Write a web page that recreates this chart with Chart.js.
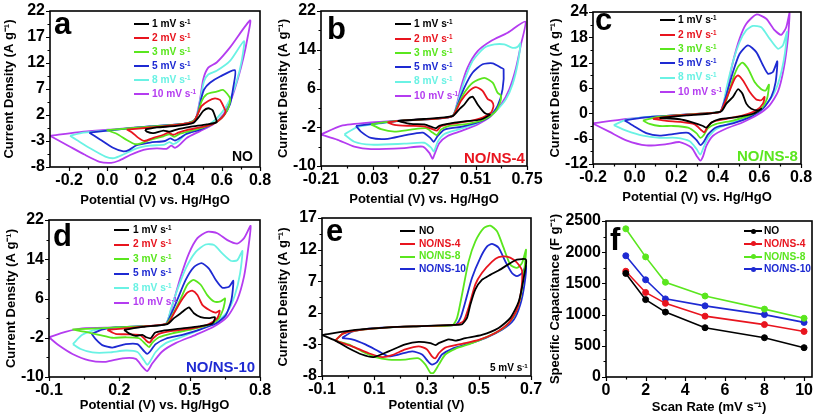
<!DOCTYPE html>
<html><head><meta charset="utf-8">
<script src="https://cdn.jsdelivr.net/npm/chart.js"></script>
<style>
html,body{margin:0;padding:0;background:#fff;}
body{width:817px;height:419px;position:relative;overflow:hidden;font-family:"Liberation Sans",Arial,Helvetica,sans-serif;}
canvas{position:absolute;}
.txt{position:absolute;font-weight:bold;line-height:1;white-space:nowrap;}
.sw{position:absolute;height:2px;}
.dot{position:absolute;width:5px;height:5px;border-radius:50%;}
sup{font-size:0.62em;vertical-align:0.55em;line-height:0;}
</style></head><body>
<script>
// ---------- labels / colours ----------
const rateLabels = ['1','2','3','5','8','10'];
const rateColors = ['#000000','#e8141e','#5ae61e','#1e2ad2','#6af2e4','#b43cf0'];
const sampleLabels = ['NO','NO/NS-4','NO/NS-8','NO/NS-10'];
const sampleColors = ['#000000','#e8141e','#5ae61e','#1e2ad2'];

// ---------- tick labels ----------
const xTicksA=[-0.2,0,0.2,0.4,0.6,0.8], yTicksA=[-8,-3,2,7,12,17,22];
const xTicksB=[-0.21,0.03,0.27,0.51,0.75], yTicksB=[-10,-2,6,14,22];
const xTicksC=[-0.2,0,0.2,0.4,0.6,0.8], yTicksC=[-12,-6,0,6,12,18,24];
const xTicksD=[-0.1,0.2,0.5,0.8], yTicksD=[-10,-2,6,14,22];
const xTicksE=[-0.1,0.1,0.3,0.5,0.7], yTicksE=[-8,-3,2,7,12,17];
const xTicksF=[0,2,4,6,8,10], yTicksF=[0,500,1000,1500,2000,2500];

// ---------- (a) NO : [potential V, current A/g] loops ----------
const cvA1=[[0.198,-0.8],[0.259,-0.4],[0.363,-0.1],[0.451,0.5],[0.477,1.5],[0.503,2.8],[0.529,3.3],[0.552,2.9],[0.566,1.6],[0.573,0.6],[0.521,0.2],[0.433,-0.3],[0.363,-0.8],[0.329,-1.2],[0.294,-1.0],[0.241,-1.5],[0.207,-1.2],[0.198,-0.8]];
const cvA2=[[0.102,-0.8],[0.224,-0.4],[0.363,0.1],[0.451,0.7],[0.473,2.1],[0.494,3.7],[0.529,4.7],[0.564,5.2],[0.59,4.9],[0.608,3.7],[0.62,2.6],[0.599,1.4],[0.555,0.3],[0.486,-0.4],[0.416,-0.9],[0.372,-1.4],[0.346,-1.8],[0.32,-1.4],[0.294,-1.8],[0.241,-2.4],[0.195,-3.0],[0.163,-2.4],[0.128,-1.3],[0.102,-0.8]];
const cvA3=[[-0.003,-0.9],[0.137,-0.5],[0.276,-0.1],[0.398,0.3],[0.451,0.85],[0.473,2.1],[0.494,4.6],[0.521,6.0],[0.573,6.5],[0.608,6.8],[0.643,5.2],[0.634,3.4],[0.608,1.8],[0.564,0.5],[0.503,-0.4],[0.433,-1.1],[0.381,-1.6],[0.35,-2.2],[0.325,-1.7],[0.294,-2.1],[0.224,-2.8],[0.172,-3.5],[0.145,-3.6],[0.102,-2.8],[0.049,-1.6],[-0.003,-0.9]];
const cvA5=[[-0.094,-1.4],[0.049,-0.8],[0.224,-0.2],[0.398,0.3],[0.451,0.85],[0.473,2.1],[0.491,5.0],[0.507,6.9],[0.538,8.2],[0.591,9.4],[0.669,10.6],[0.66,7.3],[0.643,4.1],[0.608,1.8],[0.555,0.3],[0.486,-0.8],[0.416,-1.6],[0.381,-2.4],[0.355,-2.9],[0.33,-2.5],[0.302,-3.0],[0.224,-3.3],[0.154,-3.8],[0.115,-4.7],[0.085,-5.0],[0.03,-4.3],[-0.038,-2.7],[-0.094,-1.4]];
const cvA8=[[-0.195,-2.0],[-0.125,-1.4],[0.049,-0.8],[0.224,-0.2],[0.398,0.3],[0.451,0.85],[0.472,2.1],[0.489,5.3],[0.507,8.5],[0.529,9.8],[0.573,10.5],[0.643,12.4],[0.716,16.2],[0.704,12.4],[0.678,8.5],[0.643,5.0],[0.599,2.4],[0.547,0.5],[0.477,-0.8],[0.407,-1.8],[0.372,-3.1],[0.346,-3.6],[0.325,-3.2],[0.3,-3.7],[0.224,-3.9],[0.154,-4.4],[0.084,-5.6],[0.035,-6.3],[-0.01,-6.0],[-0.09,-4.4],[-0.16,-2.8],[-0.195,-2.0]];
const cvA10=[[-0.3,-2.0],[-0.125,-1.2],[0.049,-0.7],[0.224,-0.2],[0.398,0.3],[0.451,0.85],[0.468,1.8],[0.486,5.0],[0.503,8.9],[0.529,11.1],[0.573,12.1],[0.643,15.0],[0.748,20.2],[0.735,16.9],[0.713,13.0],[0.686,9.2],[0.652,5.3],[0.608,2.1],[0.555,0.2],[0.486,-1.1],[0.416,-2.4],[0.38,-3.7],[0.355,-4.3],[0.335,-3.9],[0.31,-4.5],[0.26,-4.4],[0.19,-4.7],[0.12,-5.7],[0.06,-6.8],[0.02,-7.2],[-0.04,-7.0],[-0.12,-5.6],[-0.2,-4.0],[-0.3,-2.0]];

// ---------- (b) NO/NS-4 ----------
const cvB1=[[0.147,-0.7],[0.27,-0.3],[0.403,0.3],[0.434,1.7],[0.458,2.7],[0.481,4.0],[0.497,4.3],[0.52,2.7],[0.543,1.4],[0.559,0.8],[0.577,0.6],[0.535,-0.4],[0.458,-0.8],[0.38,-1.3],[0.341,-1.7],[0.326,-2.2],[0.31,-2.0],[0.271,-1.4],[0.209,-1.3],[0.147,-0.7]];
const cvB2=[[0.1,-1.0],[0.178,-0.6],[0.334,-0.2],[0.403,0.3],[0.442,3.4],[0.481,5.5],[0.512,6.3],[0.543,5.5],[0.567,3.8],[0.585,3.4],[0.594,2.4],[0.582,1.0],[0.543,0.0],[0.473,-0.8],[0.38,-1.4],[0.349,-1.8],[0.33,-2.7],[0.31,-2.4],[0.271,-1.8],[0.194,-1.7],[0.132,-1.5],[0.1,-1.0]];
const cvB3=[[0.023,-1.4],[0.1,-0.9],[0.178,-0.6],[0.334,-0.2],[0.403,0.3],[0.427,2.4],[0.458,5.1],[0.497,7.2],[0.551,8.2],[0.59,7.2],[0.613,5.1],[0.629,4.5],[0.621,2.7],[0.598,1.0],[0.551,-0.4],[0.473,-1.3],[0.38,-1.8],[0.349,-2.5],[0.33,-3.6],[0.31,-3.1],[0.279,-2.2],[0.209,-2.5],[0.132,-2.9],[0.07,-2.4],[0.023,-1.4]];
const cvB5=[[-0.047,-1.7],[0.07,-1.1],[0.178,-0.6],[0.334,-0.2],[0.403,0.3],[0.427,2.7],[0.458,6.2],[0.497,9.3],[0.543,11.0],[0.59,11.2],[0.629,10.3],[0.641,10.0],[0.636,5.8],[0.613,2.4],[0.574,0.1],[0.52,-1.0],[0.442,-1.9],[0.365,-2.5],[0.334,-3.8],[0.315,-5.0],[0.299,-4.2],[0.264,-3.1],[0.178,-3.7],[0.1,-4.4],[0.023,-4.2],[-0.024,-2.9],[-0.047,-1.7]];
const cvB8=[[-0.101,-3.5],[-0.039,-1.9],[0.07,-1.2],[0.178,-0.6],[0.334,-0.2],[0.403,0.3],[0.427,3.1],[0.458,7.6],[0.497,11.7],[0.551,14.4],[0.598,15.1],[0.644,15.1],[0.683,14.4],[0.706,14.6],[0.719,15.3],[0.706,11.0],[0.683,6.9],[0.652,3.8],[0.613,1.7],[0.567,0.0],[0.504,-1.4],[0.427,-2.5],[0.365,-3.4],[0.334,-5.0],[0.316,-7.0],[0.303,-6.2],[0.271,-5.2],[0.178,-5.4],[0.023,-5.6],[-0.055,-5.0],[-0.101,-3.5]];
const cvB10=[[-0.21,-3.5],[-0.117,-1.7],[0.023,-1.0],[0.178,-0.6],[0.334,-0.2],[0.403,0.3],[0.419,2.0],[0.442,6.2],[0.473,10.3],[0.52,13.7],[0.582,15.8],[0.66,17.5],[0.742,19.8],[0.722,15.1],[0.699,10.3],[0.667,5.8],[0.629,2.7],[0.582,0.3],[0.52,-1.4],[0.442,-2.8],[0.38,-3.8],[0.341,-5.3],[0.318,-7.7],[0.31,-8.5],[0.295,-7.3],[0.264,-6.0],[0.178,-6.3],[0.023,-6.5],[-0.055,-6.0],[-0.132,-4.6],[-0.21,-3.5]];

// ---------- (c) NO/NS-8 ----------
const cvC1=[[0.12,-1.1],[0.25,-0.5],[0.35,-0.1],[0.417,0.5],[0.441,2.3],[0.473,3.9],[0.497,5.7],[0.518,4.7],[0.537,2.3],[0.561,1.1],[0.593,0.7],[0.609,1.1],[0.569,-0.1],[0.489,-0.9],[0.409,-1.4],[0.369,-2.2],[0.345,-3.4],[0.329,-3.0],[0.281,-2.2],[0.217,-1.4],[0.12,-1.1]];
const cvC2=[[0.088,-1.3],[0.2,-0.5],[0.32,-0.1],[0.409,0.3],[0.425,1.5],[0.457,5.4],[0.481,8.2],[0.497,9.0],[0.521,7.8],[0.553,5.1],[0.585,3.3],[0.609,3.1],[0.625,3.9],[0.617,2.3],[0.585,0.7],[0.521,-0.5],[0.441,-1.3],[0.377,-2.0],[0.353,-3.0],[0.335,-4.5],[0.321,-4.0],[0.289,-2.6],[0.217,-2.0],[0.153,-1.8],[0.088,-1.3]];
const cvC3=[[0.04,-1.7],[0.12,-0.8],[0.281,-0.2],[0.409,0.3],[0.417,0.7],[0.441,3.1],[0.473,8.2],[0.497,11.0],[0.518,12.0],[0.545,10.6],[0.577,7.4],[0.609,5.7],[0.63,5.4],[0.646,6.8],[0.637,3.5],[0.609,1.1],[0.553,-0.5],[0.473,-1.7],[0.393,-2.5],[0.353,-3.5],[0.332,-5.2],[0.316,-5.8],[0.297,-4.7],[0.257,-3.4],[0.185,-3.0],[0.12,-3.0],[0.072,-2.5],[0.04,-1.7]];
const cvC5=[[-0.048,-1.7],[0.04,-1.0],[0.12,-0.7],[0.281,-0.2],[0.409,0.3],[0.417,0.7],[0.441,4.3],[0.473,9.8],[0.505,14.1],[0.545,16.1],[0.585,14.5],[0.617,11.4],[0.641,9.4],[0.665,9.8],[0.686,12.3],[0.678,7.4],[0.657,3.9],[0.617,1.1],[0.553,-0.9],[0.473,-2.4],[0.393,-3.3],[0.353,-5.0],[0.332,-6.8],[0.316,-7.5],[0.297,-6.3],[0.257,-4.6],[0.185,-4.9],[0.12,-5.3],[0.056,-4.7],[-0.008,-2.9],[-0.048,-1.7]];
const cvC8=[[-0.1,-2.8],[-0.04,-1.5],[0.05,-0.9],[0.12,-0.7],[0.281,-0.2],[0.409,0.3],[0.425,1.9],[0.441,5.8],[0.473,12.2],[0.505,16.9],[0.537,19.7],[0.569,20.7],[0.609,20.4],[0.649,17.7],[0.689,15.3],[0.713,16.1],[0.733,19.3],[0.721,13.7],[0.697,8.2],[0.665,4.3],[0.617,1.5],[0.553,-0.5],[0.473,-2.1],[0.393,-3.7],[0.353,-5.8],[0.329,-8.4],[0.316,-9.8],[0.297,-8.4],[0.265,-6.6],[0.2,-5.8],[0.12,-5.8],[0.04,-5.3],[-0.04,-4.1],[-0.1,-2.8]];
const cvC10=[[-0.2,-2.4],[-0.04,-1.3],[0.12,-0.7],[0.281,-0.2],[0.409,0.3],[0.425,1.9],[0.449,6.6],[0.473,12.2],[0.505,17.7],[0.537,21.2],[0.585,23.4],[0.633,22.4],[0.673,19.7],[0.705,18.6],[0.729,20.4],[0.745,23.8],[0.737,17.7],[0.717,10.6],[0.689,5.1],[0.649,1.9],[0.593,-0.3],[0.521,-2.1],[0.441,-3.6],[0.377,-5.3],[0.345,-7.7],[0.329,-10.2],[0.316,-11.2],[0.3,-10.2],[0.273,-8.1],[0.217,-6.8],[0.153,-7.3],[0.056,-7.6],[-0.04,-6.4],[-0.12,-4.4],[-0.2,-2.4]];

// ---------- (d) NO/NS-10 ----------
const cvD1=[[0.22,-0.4],[0.3,0.2],[0.405,0.8],[0.433,2.0],[0.462,3.0],[0.483,3.8],[0.497,4.2],[0.518,3.0],[0.547,2.2],[0.582,2.0],[0.608,2.2],[0.597,0.9],[0.54,0.3],[0.469,-0.1],[0.383,-0.6],[0.352,-1.0],[0.334,-2.1],[0.315,-1.9],[0.298,-1.4],[0.27,-1.6],[0.241,-1.1],[0.22,-0.4]];
const cvD2=[[0.149,-0.4],[0.25,0.0],[0.326,0.4],[0.405,0.9],[0.433,3.0],[0.462,5.4],[0.49,7.2],[0.511,7.6],[0.533,6.7],[0.554,4.7],[0.582,3.7],[0.611,3.1],[0.628,3.5],[0.618,2.0],[0.582,0.8],[0.511,-0.1],[0.426,-0.6],[0.369,-1.2],[0.344,-2.1],[0.329,-3.0],[0.315,-2.6],[0.291,-1.5],[0.241,-1.3],[0.184,-1.2],[0.149,-0.4]];
const cvD3=[[0.0,-0.3],[0.113,-0.1],[0.184,0.1],[0.326,0.4],[0.398,0.8],[0.426,2.6],[0.462,6.0],[0.49,8.8],[0.516,9.8],[0.547,8.8],[0.575,6.7],[0.604,5.4],[0.632,5.4],[0.651,6.0],[0.642,3.7],[0.618,1.6],[0.568,0.4],[0.497,-0.4],[0.426,-1.1],[0.369,-1.9],[0.341,-3.0],[0.327,-3.9],[0.312,-3.3],[0.284,-2.1],[0.227,-1.9],[0.17,-2.0],[0.113,-1.4],[0.056,-0.8],[0.0,-0.3]];
const cvD5=[[0.082,-1.2],[0.13,-0.3],[0.184,0.1],[0.326,0.4],[0.398,0.8],[0.419,2.6],[0.447,5.7],[0.483,9.8],[0.518,12.4],[0.551,13.2],[0.582,12.1],[0.611,9.8],[0.639,8.2],[0.668,8.4],[0.686,9.6],[0.678,5.7],[0.654,2.6],[0.611,0.9],[0.54,-0.4],[0.469,-1.4],[0.398,-2.2],[0.355,-3.3],[0.331,-4.8],[0.319,-5.3],[0.305,-4.7],[0.277,-3.3],[0.227,-3.3],[0.17,-4.0],[0.127,-3.5],[0.099,-2.3],[0.082,-1.2]];
const cvD8=[[0.002,-3.3],[0.042,-1.4],[0.099,-0.4],[0.184,0.1],[0.326,0.4],[0.398,0.8],[0.419,3.7],[0.447,7.7],[0.483,12.1],[0.526,15.5],[0.568,17.0],[0.604,16.9],[0.639,15.2],[0.675,13.7],[0.703,13.8],[0.725,15.7],[0.715,11.1],[0.693,6.7],[0.661,3.3],[0.611,1.3],[0.54,-0.4],[0.469,-1.8],[0.398,-3.1],[0.355,-4.9],[0.329,-7.0],[0.319,-7.5],[0.305,-6.6],[0.277,-4.9],[0.227,-4.6],[0.156,-5.0],[0.085,-5.0],[0.035,-4.3],[0.002,-3.3]];
const cvD10=[[-0.1,-1.9],[-0.03,-0.8],[0.042,-0.1],[0.184,0.1],[0.326,0.4],[0.398,0.8],[0.412,2.3],[0.433,5.7],[0.462,10.5],[0.497,15.2],[0.533,18.3],[0.575,19.6],[0.618,19.3],[0.661,17.9],[0.703,17.2],[0.732,18.3],[0.76,20.8],[0.749,15.9],[0.732,10.5],[0.703,5.7],[0.661,2.3],[0.604,0.3],[0.526,-1.4],[0.44,-3.1],[0.383,-4.8],[0.341,-7.2],[0.319,-8.8],[0.298,-7.9],[0.27,-6.3],[0.213,-6.2],[0.142,-6.9],[0.071,-6.6],[0.0,-5.3],[-0.057,-3.6],[-0.1,-1.9]];

// ---------- (e) 5 mV/s comparison ----------
const cvE_NO=[[-0.1,-1.5],[0.028,-0.7],[0.155,-0.3],[0.283,-0.1],[0.41,0.1],[0.436,0.2],[0.455,1.2],[0.468,3.3],[0.487,5.7],[0.512,7.2],[0.544,8.0],[0.576,8.7],[0.615,9.7],[0.646,10.4],[0.681,10.4],[0.672,7.5],[0.653,3.8],[0.621,1.2],[0.576,-0.4],[0.512,-1.5],[0.449,-2.0],[0.41,-2.4],[0.385,-2.2],[0.347,-2.8],[0.334,-3.1],[0.315,-2.8],[0.27,-2.6],[0.219,-3.0],[0.155,-4.1],[0.098,-5.0],[0.053,-4.6],[0.002,-3.6],[-0.049,-2.4],[-0.1,-1.5]];
const cvE_NS4=[[-0.049,-2.4],[-0.02,-1.3],[0.028,-0.8],[0.155,-0.3],[0.283,-0.1],[0.41,0.1],[0.442,0.7],[0.461,2.8],[0.487,6.5],[0.512,8.3],[0.551,10.1],[0.576,10.8],[0.608,10.9],[0.634,10.4],[0.653,9.6],[0.666,8.6],[0.662,5.4],[0.646,2.5],[0.615,0.4],[0.563,-1.2],[0.5,-2.3],[0.436,-2.9],[0.372,-3.5],[0.347,-4.4],[0.334,-5.2],[0.321,-4.9],[0.302,-3.8],[0.27,-3.3],[0.219,-3.8],[0.168,-4.7],[0.13,-5.0],[0.079,-4.4],[0.015,-3.3],[-0.049,-2.4]];
const cvE_NS8=[[-0.049,-2.4],[-0.02,-1.3],[0.028,-0.8],[0.155,-0.3],[0.283,-0.1],[0.398,0.0],[0.417,1.2],[0.436,4.9],[0.461,10.1],[0.487,13.3],[0.519,15.4],[0.544,15.8],[0.57,14.9],[0.595,12.3],[0.621,9.6],[0.646,9.1],[0.666,9.9],[0.681,12.0],[0.672,8.0],[0.659,4.3],[0.634,1.4],[0.595,-0.4],[0.538,-1.7],[0.474,-2.8],[0.41,-3.7],[0.372,-4.6],[0.347,-6.2],[0.327,-7.5],[0.315,-7.5],[0.296,-6.2],[0.27,-5.2],[0.219,-5.4],[0.155,-5.4],[0.104,-5.0],[0.053,-4.1],[0.002,-3.0],[-0.049,-2.4]];
const cvE_NS10=[[-0.023,-2.0],[0.015,-1.0],[0.08,-0.5],[0.155,-0.3],[0.283,-0.1],[0.41,0.1],[0.43,1.2],[0.449,3.8],[0.474,7.5],[0.506,10.7],[0.532,12.5],[0.551,12.9],[0.576,12.3],[0.602,10.1],[0.627,8.3],[0.646,7.8],[0.666,8.3],[0.681,9.4],[0.675,6.5],[0.659,3.3],[0.634,0.9],[0.589,-0.7],[0.525,-2.0],[0.461,-2.9],[0.398,-3.7],[0.359,-4.6],[0.34,-5.8],[0.321,-6.2],[0.306,-5.7],[0.283,-4.6],[0.245,-4.1],[0.193,-4.6],[0.155,-4.9],[0.117,-4.1],[0.066,-3.0],[0.015,-2.2],[-0.023,-2.0]];

// ---------- (f) specific capacitance vs scan rate ----------
const scanRates=[1,2,3,5,8,10];
const capNO=[1660,1240,1040,790,630,470];
const capNS4=[1695,1355,1180,975,840,730];
const capNS8=[2375,1925,1518,1298,1088,942];
const capNS10=[1943,1558,1252,1140,1000,875];

// ================= drawing =================
Chart.defaults.font.family='"Liberation Sans", Arial, Helvetica, sans-serif';
Chart.defaults.color='#000';

const framePlugin={id:'frame',afterDraw(chart){
  const {ctx,chartArea:{left,top,right,bottom}}=chart;
  const xs=chart.scales.x, ys=chart.scales.y;
  ctx.save();
  ctx.strokeStyle='#000';ctx.lineWidth=1.2;
  ctx.beginPath();
  const xv=xs.ticks.map(t=>t.value), yv=ys.ticks.map(t=>t.value);
  xv.forEach((v,i)=>{const p=Math.round(xs.getPixelForValue(v))+0.5;ctx.moveTo(p,bottom);ctx.lineTo(p,bottom+4);
    if(i<xv.length-1){const m=Math.round(xs.getPixelForValue((v+xv[i+1])/2))+0.5;ctx.moveTo(m,bottom);ctx.lineTo(m,bottom+2.5);}});
  yv.forEach((v,i)=>{const p=Math.round(ys.getPixelForValue(v))+0.5;ctx.moveTo(left,p);ctx.lineTo(left-4,p);
    if(i<yv.length-1){const m=Math.round(ys.getPixelForValue((v+yv[i+1])/2))+0.5;ctx.moveTo(left,m);ctx.lineTo(left-2.5,m);}});
  ctx.stroke();
  ctx.lineWidth=1.6;
  ctx.strokeRect(left,top,right-left,bottom-top);
  ctx.restore();
}};

function mkCanvas(l,t,w,h){
  const c=document.createElement('canvas');
  c.width=w;c.height=h;c.style.left=l+'px';c.style.top=t+'px';c.style.width=w+'px';c.style.height=h+'px';
  document.body.appendChild(c);return c;
}

function panel(cfg){
  const c=mkCanvas(cfg.l,cfg.t,cfg.w,cfg.h);
  return new Chart(c.getContext('2d'),{
    type:'scatter',
    data:{datasets:cfg.datasets},
    options:{
      responsive:false,animation:false,devicePixelRatio:1,
      layout:{padding:{top:cfg.padTop,right:cfg.padRight,left:0,bottom:0}},
      plugins:{legend:{display:false},tooltip:{enabled:false}},
      scales:{
        x:{type:'linear',min:cfg.xr[0],max:cfg.xr[1],
          afterBuildTicks:s=>{s.ticks=cfg.xt.map(v=>({value:v}));},
          afterFit:s=>{s.height=cfg.xH;s.paddingLeft=0;s.paddingRight=0;},
          grid:{display:false,drawTicks:false},border:{display:false},
          ticks:{color:'#000',font:{size:16,weight:'bold'},padding:4,maxRotation:0,autoSkip:false,callback:v=>cfg.xfmt(v)},
          title:{display:true,text:cfg.xTitle,color:'#000',font:{size:13,weight:'bold'},padding:{top:0,bottom:cfg.xtPad}}},
        y:{type:'linear',min:cfg.yr[0],max:cfg.yr[1],
          afterBuildTicks:s=>{s.ticks=cfg.yt.map(v=>({value:v}));},
          afterFit:s=>{s.width=cfg.yW;s.paddingTop=0;s.paddingBottom=0;},
          grid:{display:false,drawTicks:false},border:{display:false},
          ticks:{color:'#000',font:{size:16,weight:'bold'},padding:5,autoSkip:false,callback:v=>String(v)},
          title:{display:true,text:cfg.yTitle,color:'#000',font:{size:13,weight:'bold'},padding:{top:cfg.ytPad,bottom:0}}}
      }
    },
    plugins:[framePlugin]
  });
}

function cvSets(curves,colors){
  return curves.map((pts,i)=>({data:pts.map(p=>({x:p[0],y:p[1]})),showLine:true,borderColor:colors[i],
    backgroundColor:colors[i],borderWidth:1.8,pointRadius:0,tension:0.22,fill:false}));
}
const f1=v=>Number(v).toFixed(1), f2=v=>Number(v).toFixed(2);
const CD='Current Density (A g\u207B\u00B9)', PH='Potential (V) vs. Hg/HgO';

panel({l:0,t:0,w:272,h:210,padTop:11,padRight:12,yW:50,xH:43,xtPad:2,ytPad:2,
  xr:[-0.3,0.8],yr:[-8,22],xt:xTicksA,yt:yTicksA,xfmt:f1,xTitle:PH,yTitle:CD,
  datasets:cvSets([cvA1,cvA2,cvA3,cvA5,cvA8,cvA10],rateColors)});
panel({l:272,t:0,w:272,h:210,padTop:11,padRight:17,yW:49,xH:44,xtPad:3,ytPad:4,
  xr:[-0.21,0.75],yr:[-10,22],xt:xTicksB,yt:yTicksB,xfmt:f2,xTitle:PH,yTitle:CD,
  datasets:cvSets([cvB1,cvB2,cvB3,cvB5,cvB8,cvB10],rateColors)});
panel({l:544,t:0,w:273,h:210,padTop:12,padRight:16,yW:49,xH:46,xtPad:5,ytPad:4,
  xr:[-0.2,0.8],yr:[-12,24],xt:xTicksC,yt:yTicksC,xfmt:f1,xTitle:PH,yTitle:CD,
  datasets:cvSets([cvC1,cvC2,cvC3,cvC5,cvC8,cvC10],rateColors)});
panel({l:0,t:205,w:272,h:214,padTop:15,padRight:12,yW:49,xH:42,xtPad:6,ytPad:4,
  xr:[-0.1,0.8],yr:[-10,22],xt:xTicksD,yt:yTicksD,xfmt:f1,xTitle:PH,yTitle:CD,
  datasets:cvSets([cvD1,cvD2,cvD3,cvD5,cvD8,cvD10],rateColors)});
panel({l:272,t:205,w:272,h:214,padTop:13,padRight:13,yW:50,xH:43,xtPad:6,ytPad:4,
  xr:[-0.1,0.7],yr:[-8,17],xt:xTicksE,yt:yTicksE,xfmt:f1,xTitle:'Potential (V)',yTitle:CD,
  datasets:cvSets([cvE_NO,cvE_NS4,cvE_NS8,cvE_NS10],sampleColors)});
panel({l:544,t:205,w:273,h:214,padTop:16,padRight:4,yW:62,xH:42,xtPad:4,ytPad:4,
  xr:[0,10.4],yr:[0,2500],xt:xTicksF,yt:yTicksF,xfmt:v=>String(v),
  xTitle:'Scan Rate (mV s\u207B\u00B9)',yTitle:'Specific Capacitance (F g\u207B\u00B9)',
  datasets:[capNO,capNS4,capNS8,capNS10].map((arr,i)=>({data:arr.map((v,j)=>({x:scanRates[j],y:v})),showLine:true,
    borderColor:sampleColors[i],backgroundColor:sampleColors[i],pointBackgroundColor:sampleColors[i],
    pointBorderColor:sampleColors[i],borderWidth:1.6,pointRadius:3,pointBorderWidth:1,tension:0}))});

// ---------- text overlays ----------
function txt(html,x,base,size,color){
  const d=document.createElement('div');d.className='txt';
  d.style.left=x+'px';d.style.top=(base-size*0.8465)+'px';d.style.fontSize=size+'px';d.style.color=color;
  d.innerHTML=html;document.body.appendChild(d);return d;
}
function swatch(x0,x1,cy,color,dot){
  const s=document.createElement('div');s.className='sw';
  s.style.left=x0+'px';s.style.width=(x1-x0)+'px';s.style.top=(cy-1)+'px';s.style.background=color;
  document.body.appendChild(s);
  if(dot){const d=document.createElement('div');d.className='dot';d.style.background=color;
    d.style.left=((x0+x1)/2-2.5)+'px';d.style.top=(cy-2.5)+'px';document.body.appendChild(d);}
}
function rateLegend(sx0,sx1,tx,cy0,dy){
  rateLabels.forEach((r,i)=>{const cy=cy0+i*dy;swatch(sx0,sx1,cy,rateColors[i]);
    txt(r+' mV s<sup>-1</sup>',tx,cy+3.6,10.2,rateColors[i]);});
}
function sampleLegend(sx0,sx1,tx,cy0,dy,dot){
  sampleLabels.forEach((s,i)=>{const cy=cy0+i*dy;swatch(sx0,sx1,cy,sampleColors[i],dot);
    txt(s,tx,cy+3.6,10.2,sampleColors[i]);});
}
rateLegend(134,149,152,23.7,14.0);
rateLegend(395,411,414,24.3,14.3);
rateLegend(660,675,678,20.3,14.3);
rateLegend(114,129,133,230,14.5);
sampleLegend(400,415,419,231.3,12.6,false);
sampleLegend(744,762,764,231,12.8,true);

txt('a',54,34,31,'#000');
txt('b',327,39.5,31,'#000');
txt('c',595,30.3,31,'#000');
txt('d',53,246.7,31,'#000');
txt('e',326,241.3,31,'#000');
txt('f',610,250,31,'#000');

txt(sampleLabels[0],232,161,14,'#000');
txt(sampleLabels[1],464,162.5,15,sampleColors[1]);
txt(sampleLabels[2],737,160.3,15,sampleColors[2]);
txt(sampleLabels[3],186,371.7,15,sampleColors[3]);
txt('5 mV s<sup>-1</sup>',490,371,10,'#000');
</script>
</body></html>
